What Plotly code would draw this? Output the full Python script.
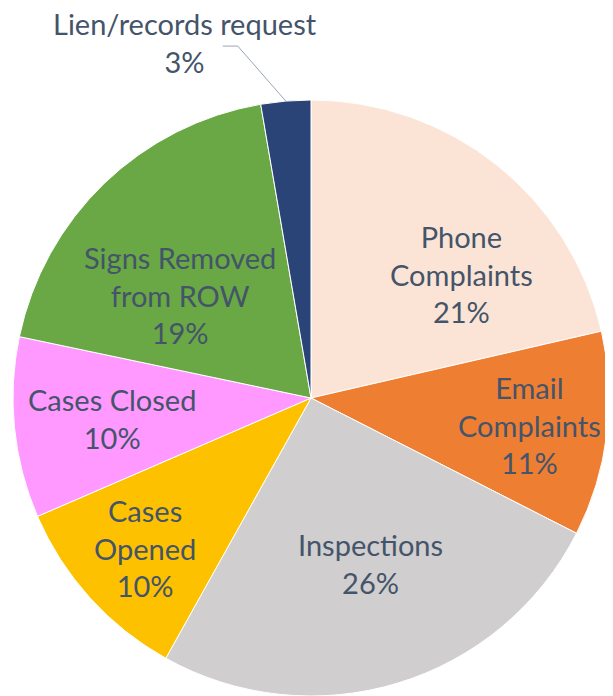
import math
import plotly.graph_objects as go

# ---- data ----
categories = ["Phone Complaints", "Email Complaints", "Inspections", "Cases Opened",
              "Cases Closed", "Signs Removed from ROW", "Lien/records request"]
label_text = ["Phone<br>Complaints", "Email<br>Complaints", "Inspections", "Cases<br>Opened",
              "Cases Closed", "Signs Removed<br>from ROW", "Lien/records request"]
values = [21.4, 11.1, 25.6, 10.4, 9.8, 19.0, 2.7]

# ---- style ----
colors = ["#FBE4D5", "#EE7E32", "#D0CECE", "#FDC100", "#FF99FF", "#69A844", "#2A4478"]
label_r = [0.655, 0.74, 0.59, 0.75, 0.67, 0.56]      # radial position of inside labels
label_da = [12, 0, -3, 0, 0, -8]                      # angular nudge (deg)
TEXT = "#44546A"
FONT = "Lato"
FS = 29

W, H = 613, 696
ML, MR, MT, MB = 4, 11, 92, 8   # page body adds an 8px offset
PW, PH = W - ML - MR, H - MT - MB
R = min(PW, PH) / 2

fig = go.Figure(go.Pie(
    labels=categories, values=values, sort=False, direction="clockwise", rotation=0,
    marker=dict(colors=colors, line=dict(color="white", width=1)),
    textinfo="none", hoverinfo="label+percent", showlegend=False,
))

total = sum(values)
cum = 0
annotations = []
shapes = []
for i, v in enumerate(values):
    pct = v / total
    mid = (cum + pct / 2) * 360
    cum += pct
    ptxt = f"{round(pct * 100):d}%"
    if i < len(label_r):
        th = math.radians(mid + label_da[i])
        x = 0.5 + label_r[i] * R * math.sin(th) / PW
        y = 0.5 + label_r[i] * R * math.cos(th) / PH
        annotations.append(dict(x=x, y=y, xref="paper", yref="paper", showarrow=False,
                                xanchor="center", yanchor="middle",
                                text=f"{label_text[i]}<br>{ptxt}",
                                font=dict(family=FONT, size=FS, color=TEXT), align="center"))
    else:
        th = math.radians(mid)
        ex = 0.5 + R * math.sin(th) / PW
        ey = 0.5 + R * math.cos(th) / PH
        elx = ex - 48 / PW
        ely = ey + 55 / PH
        endx = elx - 15 / PW
        shapes.append(dict(type="path", xref="paper", yref="paper",
                           path=f"M {ex} {ey} L {elx} {ely} L {endx} {ely}",
                           line=dict(color="#98A4B8", width=1)))
        annotations.append(dict(x=endx - 38 / PW, y=ely + 4 / PH, xref="paper", yref="paper",
                                showarrow=False, text=f"{label_text[i]}<br>{ptxt}",
                                xanchor="center", yanchor="middle",
                                font=dict(family=FONT, size=FS, color=TEXT), align="center"))

fig.update_layout(
    width=W, height=H, margin=dict(l=ML, r=MR, t=MT, b=MB),
    paper_bgcolor="white", plot_bgcolor="white",
    annotations=annotations, shapes=shapes,
)
fig.write_html("out.html")
